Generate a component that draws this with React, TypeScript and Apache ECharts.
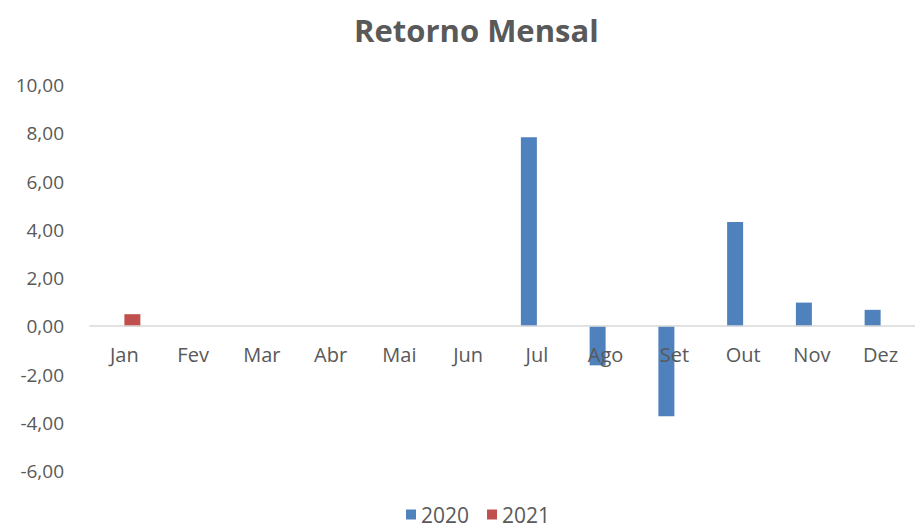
import React, { useEffect, useRef } from "react";
import * as echarts from "echarts";

const months = ["Jan", "Fev", "Mar", "Abr", "Mai", "Jun", "Jul", "Ago", "Set", "Out", "Nov", "Dez"];
const values2020: (number | null)[] = [null, null, null, null, null, null, 7.83, -1.62, -3.73, 4.32, 0.98, 0.68];
const values2021: (number | null)[] = [0.5, null, null, null, null, null, null, null, null, null, null, null];
const seriesNames = ["2020", "2021"];
const title = "Retorno Mensal";

export default function App() {
  const ref = useRef<HTMLDivElement>(null);
  useEffect(() => {
    if (!ref.current) return;
    const chart = echarts.init(ref.current, undefined, { renderer: "svg" });
    const font = "Open Sans";
    chart.setOption({
      animation: false,
      backgroundColor: "#ffffff",
      title: {
        text: title,
        left: 349,
        top: 9,
        textStyle: { fontFamily: font, fontSize: 31, fontWeight: "bold", color: "#595959" },
      },
      legend: {
        bottom: 0,
        left: 401,
        itemWidth: 10,
        itemHeight: 10,
        itemGap: 18,
        icon: "rect",
        textStyle: { fontFamily: font, fontSize: 21, color: "#595959" },
        data: seriesNames,
      },
      grid: { left: 90, right: 0, top: 85, bottom: 59, containLabel: false },
      xAxis: {
        type: "category",
        data: months,
        position: "bottom",
        offset: -145,
        z: 5,
        axisLine: { onZero: false, lineStyle: { color: "#d9d9d9", width: 1.5 } },
        axisTick: { show: false },
        axisLabel: { fontFamily: font, fontSize: 20, color: "#595959", margin: 18 },
      },
      yAxis: {
        type: "value",
        min: -6,
        max: 10,
        interval: 2,
        axisLine: { show: false },
        axisTick: { show: false },
        splitLine: { show: false },
        axisLabel: {
          fontFamily: font,
          fontSize: 19,
          color: "#595959",
          margin: 26,
          formatter: (v: number) => v.toFixed(2).replace(".", ","),
        },
      },
      series: [
        {
          name: seriesNames[0],
          type: "bar",
          data: values2020,
          barWidth: 16,
          barGap: "0%",
          itemStyle: { color: "#4F81BD" },
        },
        {
          name: seriesNames[1],
          type: "bar",
          data: values2021,
          barWidth: 16,
          barGap: "0%",
          itemStyle: { color: "#C0504D" },
        },
      ],
    });
    return () => chart.dispose();
  }, []);
  return <div ref={ref} style={{ position: "fixed", left: 0, top: 0, width: 915, height: 530 }} />;
}
